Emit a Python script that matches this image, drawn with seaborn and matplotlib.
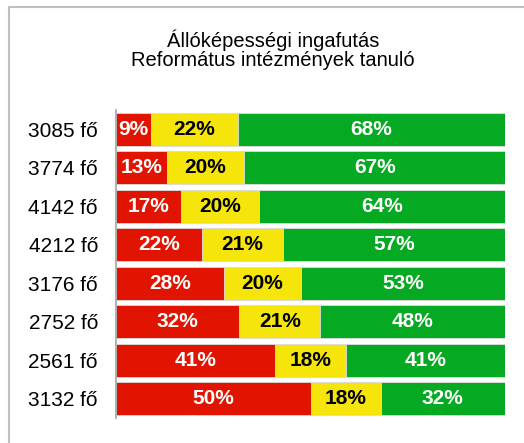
import matplotlib
matplotlib.use('Agg')
import numpy as np
import pandas as pd
import seaborn as sns
import matplotlib.pyplot as plt
from matplotlib.lines import Line2D

# data
groups = ["3085 fő", "3774 fő", "4142 fő", "4212 fő", "3176 fő", "2752 fő", "2561 fő", "3132 fő"]
red_pct = [9, 13, 17, 22, 28, 32, 41, 50]
yellow_pct = [22, 20, 20, 21, 20, 21, 18, 18]
green_pct = [68, 67, 64, 57, 53, 48, 41, 32]

c_red, c_yellow, c_green = "#E01400", "#F5E50A", "#05AA22"

sns.set_theme(style="white")
plt.rcParams['font.family'] = ['Liberation Sans', 'DejaVu Sans']
plt.rcParams['text.color'] = 'black'

df = pd.DataFrame({"group": groups, "red": red_pct, "yellow": yellow_pct, "green": green_pct})
tot = df[["red", "yellow", "green"]].sum(axis=1)
# 100% stacked -> normalise each row
df["r"] = df["red"] / tot * 100
df["ry"] = (df["red"] + df["yellow"]) / tot * 100
df["ryg"] = 100.0

fig = plt.figure(figsize=(5.24, 4.43), dpi=100)
ax = fig.add_axes([116/524, 1-418/443, (505-116)/524, (418-110)/443])

# overlay cumulative bars, widest first
for col, c in [("ryg", c_green), ("ry", c_yellow), ("r", c_red)]:
    sns.barplot(data=df, x=col, y="group", orient="h", color=c, saturation=1,
                width=0.86, edgecolor="#dddddd", linewidth=0.6, ax=ax)

# segment labels
for i, row in df.iterrows():
    segs = [(0, row["r"], row["red"], "white"),
            (row["r"], row["ry"], row["yellow"], "black"),
            (row["ry"], row["ryg"], row["green"], "white")]
    for a, b, v, tc in segs:
        ax.text((a + b) / 2, i, f"{v}%", ha="center", va="center", color=tc,
                fontsize=15, fontweight="bold")

ax.set_xlim(0, 100)
ax.set_ylim(7.5, -0.5)
ax.set_xlabel("")
ax.set_ylabel("")
ax.set_xticks([])
ax.tick_params(axis="y", length=0, pad=13, labelsize=15, labelcolor="black")
for s in ["top", "right", "bottom"]:
    ax.spines[s].set_visible(False)
ax.spines["left"].set_color("#a6a6a6")
ax.spines["left"].set_linewidth(1.2)

fig.text(273/524, 1-40/443, "Állóképességi ingafutás", ha="center", va="center", fontsize=14.5, color="black")
fig.text(273/524, 1-61/443, "Református intézmények tanuló", ha="center", va="center", fontsize=14.5, color="black")

# chart area border (left and top visible)
fig.add_artist(Line2D([9/524, 9/524], [0, 1-7/443], transform=fig.transFigure, color="#bfbfbf", lw=1.5))
fig.add_artist(Line2D([9/524, 1], [1-7/443, 1-7/443], transform=fig.transFigure, color="#bfbfbf", lw=1.5))

fig.savefig("out.png", dpi=100)
